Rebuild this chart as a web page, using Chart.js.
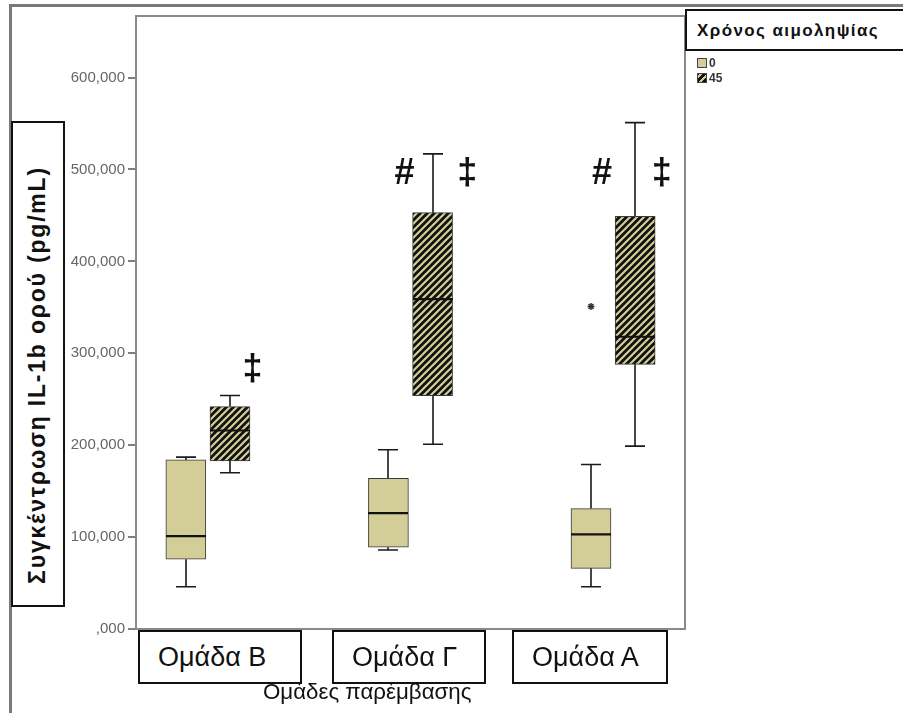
<!DOCTYPE html>
<html>
<head>
<meta charset="utf-8">
<script src="https://cdn.jsdelivr.net/npm/chart.js@4.4.1/dist/chart.umd.min.js"></script>
<style>
  body { margin: 0; background: #fff; font-family: "Liberation Sans", Arial, sans-serif; }
  #wrap { position: relative; width: 903px; height: 713px; overflow: hidden; }
  #c { position: absolute; left: 0; top: 0; }
  .outer { position: absolute; left: 9px; top: 4px; right: 0; bottom: 0; border-left: 3px solid #7a7a7a; border-top: 3px solid #7a7a7a; }
  .ybox { position: absolute; left: 11px; top: 121px; width: 50px; height: 482px; border: 2px solid #111; background: #fff; }
  .ybox span { position: absolute; left: 50%; top: 50%; transform: translate(-50%, -50%) translate(-1px, 11px) rotate(-90deg); white-space: nowrap; font-weight: bold; font-size: 23px; letter-spacing: 1.8px; color: #111; }
  .cat { position: absolute; top: 630px; height: 50px; border: 2px solid #111; background: #fff; font-size: 27px; color: #111; line-height: 50px; padding-left: 18px; box-sizing: content-box; }
  .xtitle { position: absolute; left: 263px; top: 679px; font-size: 22.3px; color: #111; white-space: nowrap; }
  .legtitle { position: absolute; left: 685px; top: 9px; width: 230px; height: 38px; border: 2px solid #111; background: #fff; font-weight: bold; font-size: 17px; letter-spacing: 1.4px; line-height: 40px; padding-left: 10px; color: #111; }
  .legitem { position: absolute; left: 697px; font-size: 12px; font-weight: bold; color: #333; line-height: 11px; }
  .sw { display: inline-block; width: 8px; height: 8px; border: 1px solid #444; vertical-align: top; margin-right: 2px; }
</style>
</head>
<body>
<div id="wrap">
  <canvas id="c" width="903" height="713"></canvas>
  <div class="outer"></div>
</div>
<script>
// groups (x categories) and the two sampling times (series)
const categories = ['Ομάδα Β', 'Ομάδα Γ', 'Ομάδα Α'];
const seriesNames = ['0', '45'];

// box plot values in pg/mL, one entry per category
const min0 = [46, 86, 46];
const q1_0 = [76, 89, 66];
const med0 = [101, 126, 103];
const q3_0 = [184, 164, 131];
const max0 = [187, 195, 179];

const min45 = [170, 201, 199];
const q1_45 = [183, 254, 288];
const med45 = [216, 359, 318];
const q3_45 = [242, 453, 449];
const max45 = [254, 517, 551];

// extreme value (*) – time 0, Ομάδα Α
const outlier0 = [null, null, 351];

const yTicks = [0, 100, 200, 300, 400, 500, 600];

// significance marks put on the chart by hand
const markText = ['‡', '#', '‡', '#', '‡'];
const markX = [1.22, 1.97, 2.28, 2.945, 3.24];
const markY = [282, 495, 495, 495, 495];

const khaki = '#d3ce97';
const shift = 0.109;

// diagonal hatch used for the 45' boxes
function hatch() {
  const s = 7;
  const p = document.createElement('canvas');
  p.width = s; p.height = s;
  const g = p.getContext('2d');
  g.fillStyle = '#111';
  g.fillRect(0, 0, s, s);
  g.strokeStyle = khaki;
  g.lineWidth = 2.2;
  g.beginPath();
  g.moveTo(-1, s + 1); g.lineTo(s + 1, -1);
  g.moveTo(-1, 1); g.lineTo(1, -1);
  g.moveTo(s - 1, s + 1); g.lineTo(s + 1, s - 1);
  g.stroke();
  return g.createPattern(p, 'repeat');
}
const stripes = hatch();

const sets = [
  { label: seriesNames[0], off: -shift, mn: min0, q1: q1_0, md: med0, q3: q3_0, mx: max0, fill: khaki },
  { label: seriesNames[1], off: shift, mn: min45, q1: q1_45, md: med45, q3: q3_45, mx: max45, fill: stripes }
];

const boxDatasets = sets.map(s => ({
  type: 'bar',
  label: s.label,
  data: categories.map((c, i) => ({ x: i + 1 + s.off, y: [s.q1[i], s.q3[i]] })),
  backgroundColor: s.fill,
  borderColor: '#3a3a3a',
  borderWidth: 1,
  borderSkipped: false,
  barThickness: 40,
  grouped: false
}));

const outlierData = [];
outlier0.forEach((v, i) => { if (v !== null) outlierData.push({ x: i + 1 - shift, y: v }); });

const boxExtras = {
  id: 'boxExtras',
  afterDatasetsDraw(chart) {
    const { ctx, chartArea: a } = chart;
    const x = chart.scales.x, y = chart.scales.y;
    ctx.save();
    sets.forEach(s => {
      categories.forEach((c, i) => {
        const px = Math.round(x.getPixelForValue(i + 1 + s.off));
        const yMin = y.getPixelForValue(s.mn[i]);
        const yQ1 = y.getPixelForValue(s.q1[i]);
        const yQ3 = y.getPixelForValue(s.q3[i]);
        const yMax = y.getPixelForValue(s.mx[i]);
        ctx.strokeStyle = '#1a1a1a';
        ctx.lineWidth = 1.6;
        ctx.beginPath();
        ctx.moveTo(px, yQ3); ctx.lineTo(px, yMax);
        ctx.moveTo(px - 10, yMax); ctx.lineTo(px + 10, yMax);
        ctx.moveTo(px, yQ1); ctx.lineTo(px, yMin);
        ctx.moveTo(px - 10, yMin); ctx.lineTo(px + 10, yMin);
        ctx.stroke();
        const yMd = y.getPixelForValue(s.md[i]);
        ctx.lineWidth = 2.2;
        ctx.strokeStyle = '#111';
        ctx.beginPath();
        ctx.moveTo(px - 20, yMd); ctx.lineTo(px + 20, yMd);
        ctx.stroke();
      });
    });
    // significance marks
    ctx.fillStyle = '#111';
    ctx.font = 'bold 36px "Liberation Sans", Arial';
    ctx.textAlign = 'center';
    ctx.textBaseline = 'middle';
    markText.forEach((t, k) => {
      ctx.fillText(t, x.getPixelForValue(markX[k]), y.getPixelForValue(markY[k]));
    });
    // plot frame
    ctx.strokeStyle = '#8a8a8a';
    ctx.lineWidth = 2;
    ctx.strokeRect(a.left, a.top, a.right - a.left, a.bottom - a.top);
    ctx.restore();
  }
};

new Chart(document.getElementById('c'), {
  type: 'bar',
  data: {
    datasets: [
      ...boxDatasets,
      {
        type: 'scatter',
        label: 'extreme',
        data: outlierData,
        pointStyle: 'star',
        radius: 3.5,
        borderColor: '#333',
        borderWidth: 1.5,
        backgroundColor: '#333'
      }
    ]
  },
  options: {
    responsive: false,
    animation: false,
    layout: { padding: { left: 0, top: 16, right: 218, bottom: 84 } },
    plugins: { legend: { display: false }, tooltip: { enabled: false } },
    scales: {
      x: { type: 'linear', min: 0.645, max: 3.355, offset: false, display: false },
      y: {
        min: 0,
        max: 667,
        afterFit: s => { s.width = 136; },
        afterBuildTicks: s => { s.ticks = yTicks.map(v => ({ value: v })); },
        ticks: {
          padding: 3,
          color: '#666',
          font: { family: '"Liberation Sans", Arial', size: 15 },
          callback: v => v === 0 ? ',000' : v.toFixed(3).replace('.', ',')
        },
        grid: { drawOnChartArea: false, tickLength: 8, color: '#808080', lineWidth: 2 },
        border: { display: false }
      }
    }
  },
  plugins: [boxExtras]
});

// boxes and text around the plot
const wrap = document.getElementById('wrap');
function add(cls, html, style) {
  const d = document.createElement('div');
  d.className = cls;
  d.innerHTML = html;
  Object.assign(d.style, style || {});
  wrap.appendChild(d);
  return d;
}
add('ybox', '<span>Συγκέντρωση IL-1b ορού (pg/mL)</span>');
const catBoxes = [[138, 164], [332, 154], [512, 156]];
categories.forEach((c, i) => {
  add('cat', c, { left: catBoxes[i][0] + 'px', width: (catBoxes[i][1] - 22) + 'px' });
});
add('xtitle', 'Ομάδες παρέμβασης');
add('legtitle', 'Χρόνος αιμοληψίας');
add('legitem', '<span class="sw" style="background:' + khaki + '"></span>' + seriesNames[0], { top: '58px' });
add('legitem', '<span class="sw" style="background:repeating-linear-gradient(-45deg,#111 0 3px,' + khaki + ' 3px 5px)"></span>' + seriesNames[1], { top: '73px' });
</script>
</body>
</html>
